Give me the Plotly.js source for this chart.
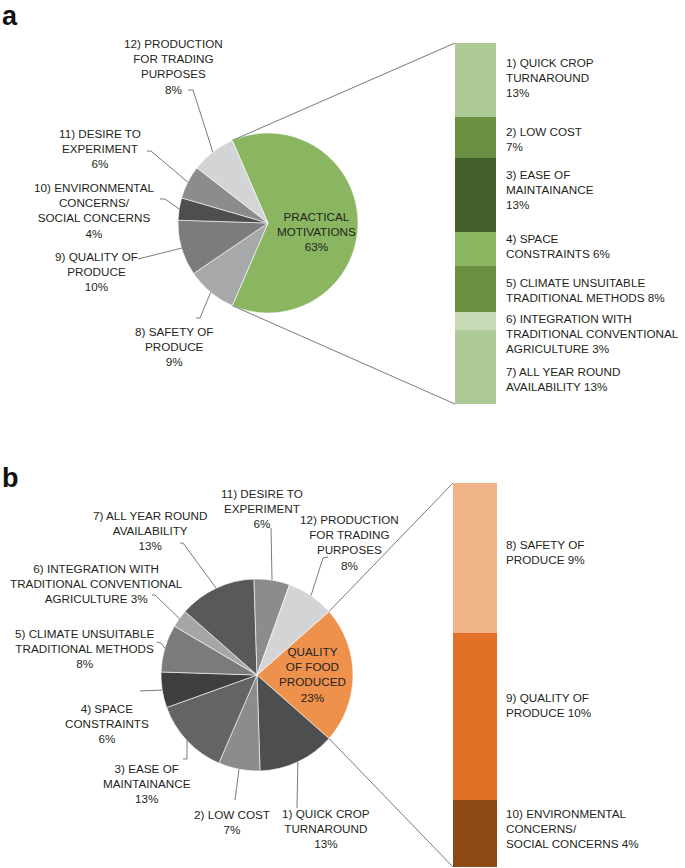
<!DOCTYPE html>
<html><head><meta charset="utf-8">
<script src="https://cdn.plot.ly/plotly-3.0.1.min.js"></script>
<style>html,body{margin:0;padding:0;background:#fff}#chart{width:685px;height:868px}</style>
</head><body><div id="chart"></div>
<script>
const W = 685, H = 868;

// ---------- Panel a data ----------
const pieACats = ['PRACTICAL<br>MOTIVATIONS', '8) SAFETY OF<br>PRODUCE', '9) QUALITY OF<br>PRODUCE',
  '10) ENVIRONMENTAL<br>CONCERNS/<br>SOCIAL CONCERNS', '11) DESIRE TO<br>EXPERIMENT',
  '12) PRODUCTION<br>FOR TRADING<br>PURPOSES'];
const pieAValues = [63, 9, 10, 4, 6, 8];
const pieAColors = ['#8ab661', '#a7a8aa', '#7b7c7e', '#4d4e50', '#8b8c8e', '#d3d4d5'];

const barACats = ['1) QUICK CROP<br>TURNAROUND', '2) LOW COST', '3) EASE OF<br>MAINTAINANCE',
  '4) SPACE<br>CONSTRAINTS', '5) CLIMATE UNSUITABLE<br>TRADITIONAL METHODS',
  '6) INTEGRATION WITH<br>TRADITIONAL CONVENTIONAL<br>AGRICULTURE', '7) ALL YEAR ROUND<br>AVAILABILITY'];
const barAValues = [13, 7, 13, 6, 8, 3, 13];
const barAColors = ['#adc996', '#6a8f42', '#445e2a', '#8ab661', '#6a8f42', '#c7dab5', '#adc996'];

// ---------- Panel b data ----------
const pieBCats = ['QUALITY<br>OF FOOD<br>PRODUCED', '1) QUICK CROP<br>TURNAROUND', '2) LOW COST',
  '3) EASE OF<br>MAINTAINANCE', '4) SPACE<br>CONSTRAINTS', '5) CLIMATE UNSUITABLE<br>TRADITIONAL METHODS',
  '6) INTEGRATION WITH<br>TRADITIONAL CONVENTIONAL<br>AGRICULTURE', '7) ALL YEAR ROUND<br>AVAILABILITY',
  '11) DESIRE TO<br>EXPERIMENT', '12) PRODUCTION<br>FOR TRADING<br>PURPOSES'];
const pieBValues = [23, 13, 7, 13, 6, 8, 3, 13, 6, 8];
const pieBColors = ['#ee914c', '#4d4e50', '#8b8c8e', '#636466', '#3e3f41', '#7a7b7d', '#a5a6a8', '#58595b', '#8b8c8e', '#d3d4d5'];

const barBCats = ['8) SAFETY OF<br>PRODUCE', '9) QUALITY OF<br>PRODUCE', '10) ENVIRONMENTAL<br>CONCERNS/<br>SOCIAL CONCERNS'];
const barBValues = [9, 10, 4];
const barBColors = ['#f1b489', '#e07126', '#8c4912'];

// ---------- layout geometry (pixels) ----------
const pieAGeo = {cx: 268, cy: 223, r: 90};
const pieBGeo = {cx: 257, cy: 675, r: 96};
const barAGeo = {x0: 455, x1: 496, y0: 43, y1: 404};
const barBGeo = {x0: 453, x1: 497, y0: 483, y1: 867};

const pieASep = ['<br>', '<br>', '<br>', '<br>', '<br>', '<br>'];
const pieALabelPos = [[316, 231], [174, 346], [96, 271], [94, 211], [100, 148], [173, 66]];
const pieALeader = [null, [[196, 318], [200, 318]], [[138, 259]], [[160, 199], [165, 199]], [[147, 151], [151, 151]], [[188, 90], [193, 90]]];

const pieBSep = ['<br>', '<br>', '<br>', '<br>', '<br>', '<br>', ' ', '<br>', '<br>', '<br>'];
const pieBLabelPos = [[312, 674], [326, 828], [232, 822], [147, 783], [107, 723], [84, 648], [96, 583], [150, 530], [262, 508], [349, 542]];
const pieBLeader = [null, [[297, 808]], [[235, 800]], [[183, 759], [187, 759]], [[140, 691]], [[157, 642], [161, 643]],
  [[152, 595], [155, 595]], [[180, 543], [183, 543]], [[271, 528]], [[328, 557], [323, 558]]];

const barASep = ['<br>', '<br>', '<br>', ' ', ' ', ' ', ' '];
const barALabelY = [77, 139, 189, 246, 290, 334, 379];
const barBSep = [' ', ' ', ' '];
const barBLabelY = [552, 705, 828];
const barLabelX = 504;

const FONT = 'Liberation Sans, Arial, Helvetica, sans-serif';
const TXT = '#231f20';
const LINE = '#7a7a7a';

const px = x => x / W;
const py = y => 1 - y / H;
const sum = a => a.reduce((s, v) => s + v, 0);

function pieRotation(vals) { return 90 - (vals[0] / sum(vals)) * 180; }
function edgePoint(geo, deg) {
  const a = deg * Math.PI / 180;
  return [geo.cx + geo.r * Math.sin(a), geo.cy - geo.r * Math.cos(a)];
}
function midAngles(vals, rot) {
  const t = sum(vals); let c = rot; const out = [];
  vals.forEach(v => { const s = v / t * 360; out.push(c + s / 2); c += s; });
  return out;
}
function pathOf(pts) {
  return pts.map((p, i) => (i ? 'L ' : 'M ') + px(p[0]).toFixed(5) + ' ' + py(p[1]).toFixed(5)).join(' ');
}

const data = [];
const annotations = [];
const shapes = [];

function addPie(cats, vals, colors, geo, seps, labelPos, leaders) {
  const rot = pieRotation(vals);
  data.push({
    type: 'pie', labels: cats, values: vals, sort: false, direction: 'clockwise', rotation: rot,
    textinfo: 'none', hoverinfo: 'label+value', showlegend: false,
    marker: {colors: colors, line: {color: '#ffffff', width: 0.6}},
    domain: {x: [px(geo.cx - geo.r), px(geo.cx + geo.r)], y: [py(geo.cy + geo.r), py(geo.cy - geo.r)]}
  });
  const mids = midAngles(vals, rot);
  cats.forEach((c, i) => {
    annotations.push({
      text: c + seps[i] + vals[i] + '%', x: px(labelPos[i][0]), y: py(labelPos[i][1]),
      xref: 'paper', yref: 'paper', xanchor: 'center', yanchor: 'middle', align: 'center',
      showarrow: false, font: {family: FONT, size: 11.7, color: TXT}
    });
    if (leaders[i]) {
      const pts = leaders[i].concat([edgePoint(geo, mids[i])]);
      shapes.push({type: 'path', xref: 'paper', yref: 'paper', path: pathOf(pts), line: {color: LINE, width: 1}});
    }
  });
  return rot;
}

function addBar(cats, vals, colors, geo, seps, labelY, axSuffix, pieGeo, pieVals, rot) {
  const total = sum(vals);
  cats.forEach((c, i) => {
    data.push({
      type: 'bar', x: [0], y: [vals[i]], width: 1, name: c.replace(/<br>/g, ' '),
      marker: {color: colors[i], line: {width: 0}}, showlegend: false, hoverinfo: 'name+y',
      xaxis: 'x' + axSuffix, yaxis: 'y' + axSuffix
    });
    annotations.push({
      text: c + seps[i] + vals[i] + '%', x: px(barLabelX), y: py(labelY[i]),
      xref: 'paper', yref: 'paper', xanchor: 'left', yanchor: 'middle', align: 'left',
      showarrow: false, font: {family: FONT, size: 11.7, color: TXT}
    });
  });
  // connector lines from the exploded slice to the bar
  const share = pieVals[0] / sum(pieVals) * 360;
  const pTop = edgePoint(pieGeo, rot);
  const pBot = edgePoint(pieGeo, rot + share);
  shapes.push({type: 'line', xref: 'paper', yref: 'paper', x0: px(pTop[0]), y0: py(pTop[1]), x1: px(geo.x0), y1: py(geo.y0), line: {color: LINE, width: 1}});
  shapes.push({type: 'line', xref: 'paper', yref: 'paper', x0: px(pBot[0]), y0: py(pBot[1]), x1: px(geo.x0), y1: py(geo.y1), line: {color: LINE, width: 1}});
  return {
    x: {domain: [px(geo.x0), px(geo.x1)], range: [-0.5, 0.5], visible: false, fixedrange: true},
    y: {domain: [py(geo.y1), py(geo.y0)], range: [total, 0], visible: false, fixedrange: true}
  };
}

const rotA = addPie(pieACats, pieAValues, pieAColors, pieAGeo, pieASep, pieALabelPos, pieALeader);
const rotB = addPie(pieBCats, pieBValues, pieBColors, pieBGeo, pieBSep, pieBLabelPos, pieBLeader);
const axA = addBar(barACats, barAValues, barAColors, barAGeo, barASep, barALabelY, '', pieAGeo, pieAValues, rotA);
const axB = addBar(barBCats, barBValues, barBColors, barBGeo, barBSep, barBLabelY, '2', pieBGeo, pieBValues, rotB);

annotations.push({text: '<b>a</b>', x: 0, y: py(16), xref: 'paper', yref: 'paper', xanchor: 'left', yanchor: 'middle', showarrow: false, font: {family: FONT, size: 27, color: '#111'}});
annotations.push({text: '<b>b</b>', x: 0, y: py(478), xref: 'paper', yref: 'paper', xanchor: 'left', yanchor: 'middle', showarrow: false, font: {family: FONT, size: 27, color: '#111'}});

const layout = {
  width: W, height: H, margin: {l: 0, r: 0, t: 0, b: 0},
  paper_bgcolor: '#ffffff', plot_bgcolor: 'rgba(0,0,0,0)',
  showlegend: false, barmode: 'stack', bargap: 0,
  xaxis: axA.x, yaxis: axA.y,
  xaxis2: Object.assign({anchor: 'y2'}, axB.x), yaxis2: Object.assign({anchor: 'x2'}, axB.y),
  annotations: annotations, shapes: shapes,
  font: {family: FONT, color: TXT}
};

Plotly.newPlot('chart', data, layout, {staticPlot: true, displayModeBar: false});
</script>
</body></html>
